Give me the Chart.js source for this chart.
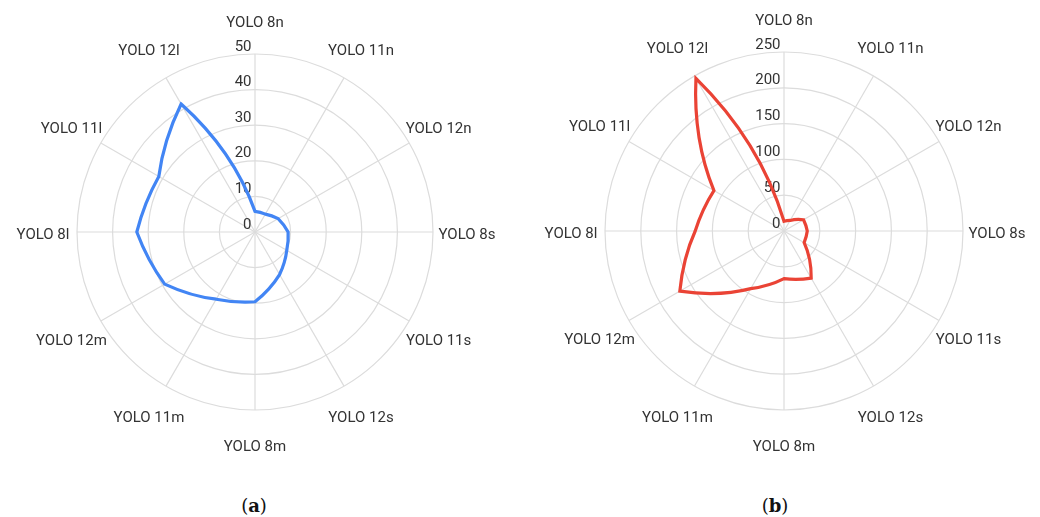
<!DOCTYPE html>
<html>
<head>
<meta charset="utf-8">
<script src="https://cdn.jsdelivr.net/npm/chart.js@4.4.1/dist/chart.umd.min.js"></script>
<style>
  html, body { margin: 0; padding: 0; background: #fff; }
  #wrap { position: relative; width: 1040px; height: 517px; overflow: hidden; background: #fff; }
  .pane { position: absolute; top: 0; width: 520px; height: 470px; }
  .pane canvas { display: block; }
  .caption {
    position: absolute; top: 494px; width: 80px; margin-left: -40px;
    text-align: center; font-family: "DejaVu Serif", "Liberation Serif", serif;
    font-size: 18px; color: #111; line-height: 24px;
  }
</style>
</head>
<body>
<div id="wrap">
  <div class="pane" style="left:0"><canvas id="chartA" width="520" height="470"></canvas></div>
  <div class="pane" style="left:520px"><canvas id="chartB" width="520" height="470"></canvas></div>
  <div class="caption" style="left:254px">(<b>a</b>)</div>
  <div class="caption" style="left:775px">(<b>b</b>)</div>
</div>
<script>
// Model names, clockwise from the top spoke
const categories = ['YOLO 8n', 'YOLO 11n', 'YOLO 12n', 'YOLO 8s', 'YOLO 11s', 'YOLO 12s',
                    'YOLO 8m', 'YOLO 11m', 'YOLO 12m', 'YOLO 8l', 'YOLO 11l', 'YOLO 12l'];

// Series for panel (a) and panel (b)
const seriesA = [5.8, 5.8, 7.5, 9.3, 10.3, 13.8, 19.6, 21.8, 29.3, 33.2, 31.2, 41.5];
const seriesB = [13.5, 17, 31.5, 32.5, 32.5, 76, 66.5, 93, 168, 124, 113, 246];

// Radial tick values for each panel
const ticksA = [0, 10, 20, 30, 40, 50];
const ticksB = [0, 50, 100, 150, 200, 250];

const FONT_FAMILY = 'Roboto, "Noto Sans", sans-serif';
const FONT_SIZE = 15;
const TEXT_COLOR = '#333';
const GRID_COLOR = '#dcdcdc';

// Tick labels sit up-left of each ring on the vertical spoke, under the data line
const tickLabelPlugin = {
  id: 'tickLabels',
  beforeDatasetsDraw(chart) {
    const r = chart.scales.r;
    const ctx = chart.ctx;
    ctx.save();
    ctx.font = FONT_SIZE + 'px ' + FONT_FAMILY;
    ctx.fillStyle = TEXT_COLOR;
    ctx.textAlign = 'right';
    ctx.textBaseline = 'alphabetic';
    r.ticks.forEach(t => {
      const d = r.getDistanceFromCenterForValue(t.value);
      ctx.fillText(String(t.value), r.xCenter - 3.5, r.yCenter - d - 3.5);
    });
    ctx.restore();
  }
};

// Curved polar outline: each segment is a quadratic curve whose control point is
// the polar midpoint (half-way angle, average value), so segments bend with the
// rings while the corners stay sharp at the data points.
const polarLinePlugin = {
  id: 'polarLine',
  afterDatasetsDraw(chart) {
    const r = chart.scales.r;
    const ctx = chart.ctx;
    const n = chart.data.labels.length;
    const half = Math.PI / n;
    chart.data.datasets.forEach(ds => {
      const vals = ds.data;
      const pt = i => r.getPointPosition(i, r.getDistanceFromCenterForValue(vals[i]));
      ctx.save();
      ctx.beginPath();
      const p0 = pt(0);
      ctx.moveTo(p0.x, p0.y);
      for (let i = 0; i < n; i++) {
        const j = (i + 1) % n;
        const c = r.getPointPosition(i, r.getDistanceFromCenterForValue((vals[i] + vals[j]) / 2), half);
        const q = pt(j);
        ctx.quadraticCurveTo(c.x, c.y, q.x, q.y);
      }
      ctx.closePath();
      ctx.lineWidth = ds.lineWidthPolar;
      ctx.strokeStyle = ds.colorPolar;
      ctx.lineJoin = 'miter';
      ctx.miterLimit = 10;
      ctx.stroke();
      ctx.restore();
    });
  }
};

// Category names centred on each spoke, a fixed distance beyond the outer ring
const pointLabelPlugin = {
  id: 'spokeLabels',
  afterDraw(chart) {
    const r = chart.scales.r;
    const ctx = chart.ctx;
    ctx.save();
    ctx.font = FONT_SIZE + 'px ' + FONT_FAMILY;
    ctx.fillStyle = TEXT_COLOR;
    ctx.textAlign = 'center';
    ctx.textBaseline = 'alphabetic';
    const capHalf = FONT_SIZE * 0.711 / 2;
    chart.data.labels.forEach((lab, i) => {
      const p = r.getPointPosition(i, r.drawingArea + 34);
      ctx.fillText(lab, p.x, p.y + 1.5 + capHalf);
    });
    ctx.restore();
  }
};

function makeRadar(id, values, ticks, color, padding) {
  return new Chart(document.getElementById(id), {
    type: 'radar',
    data: {
      labels: categories,
      datasets: [{
        data: values,
        showLine: false,
        fill: false,
        backgroundColor: 'rgba(0,0,0,0)',
        borderColor: color,
        pointRadius: 0,
        pointHoverRadius: 0,
        colorPolar: color,
        lineWidthPolar: 3.2
      }]
    },
    options: {
      responsive: false,
      animation: false,
      devicePixelRatio: 1,
      layout: { padding: padding },
      plugins: { legend: { display: false }, tooltip: { enabled: false } },
      scales: {
        r: {
          min: ticks[0],
          max: ticks[ticks.length - 1],
          afterBuildTicks(scale) {
            scale.ticks = ticks.map(v => ({ value: v }));
          },
          ticks: { display: false },
          pointLabels: { display: false },
          grid: { circular: true, color: GRID_COLOR, lineWidth: 1.2 },
          angleLines: { display: true, color: GRID_COLOR, lineWidth: 1.2 }
        }
      }
    },
    plugins: [tickLabelPlugin, polarLinePlugin, pointLabelPlugin]
  });
}

makeRadar('chartA', seriesA, ticksA, '#4285F4', { left: 77, top: 54, right: 87, bottom: 60 });
makeRadar('chartB', seriesB, ticksB, '#EA4335', { left: 85, top: 52, right: 77, bottom: 60 });
</script>
</body>
</html>
